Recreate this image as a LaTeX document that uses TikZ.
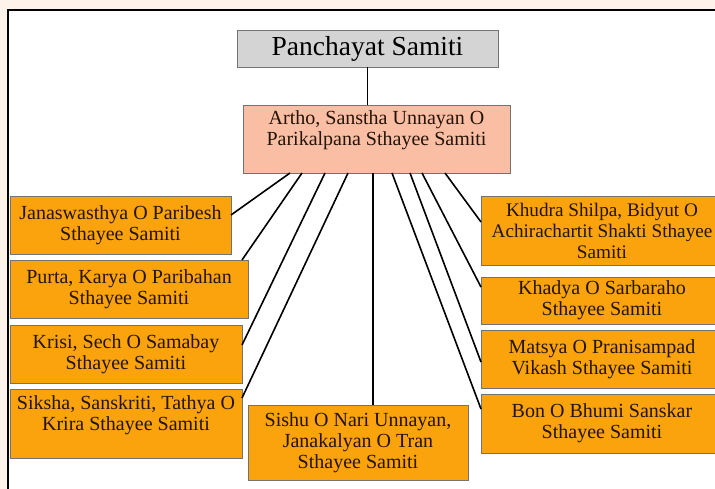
\documentclass[tikz,border=0pt]{standalone}
\usepackage{fontspec}
\usepackage{tikz}
\usepackage{xcolor}
\setmainfont{Liberation Serif}
\definecolor{samitigray}{RGB}{212,212,212}
\definecolor{samitisalmon}{RGB}{250,190,165}
\definecolor{samitiorange}{RGB}{250,163,12}
\definecolor{samititext}{RGB}{36,20,6}
\definecolor{pagecream}{RGB}{253,243,234}

\begin{document}
\begin{tikzpicture}[x=1pt,y=-1pt,
  box/.style={shape=rectangle,anchor=north west,draw=black!55,line width=0.8pt,
    inner sep=0pt,outer sep=0pt,align=center,text=samititext,
    font=\fontsize{20}{21}\selectfont},
  top box/.style={box,fill=samitigray,text=black,font=\fontsize{27.5}{30}\selectfont},
  mid box/.style={box,fill=samitisalmon},
  sub box/.style={box,fill=samitiorange},
  link/.style={line width=1.6pt,black}]
\clip (0,0) rectangle (715,489);
\fill[pagecream] (0,0) rectangle (715,489);
\fill[white] (8,10) rectangle (715,489);
\draw[line width=1.5pt] (8,489) -- (8,10) -- (715,10);
\node[top box,minimum width=261,minimum height=37] (P) at (237,30) {Panchayat Samiti};
\node[mid box,minimum width=267,minimum height=68] (A) at (243,105) {Artho, Sanstha Unnayan O\\Parikalpana Sthayee Samiti\\ \mbox{}};
\node[sub box,minimum width=221,minimum height=58] (J) at (10,196) {Janaswasthya O Paribesh\\Sthayee Samiti};
\node[sub box,minimum width=238,minimum height=58] (PK) at (10,260) {Purta, Karya O Paribahan\\Sthayee Samiti};
\node[sub box,minimum width=232,minimum height=58] (KS) at (10,325) {Krisi, Sech O Samabay\\Sthayee Samiti};
\node[sub box,minimum width=232,minimum height=69] (S) at (10,389) {Siksha, Sanskriti, Tathya O\\Krira Sthayee Samiti\\ \mbox{}};
\node[sub box,minimum width=220,minimum height=75] (SN) at (248,405) {Sishu O Nari Unnayan,\\Janakalyan O Tran\\Sthayee Samiti};
\node[sub box,minimum width=242,minimum height=69,font=\fontsize{19.2}{21}\selectfont] (KB) at (481,196) {Khudra Shilpa, Bidyut O\\Achirachartit Shakti Sthayee\\Samiti};
\node[sub box,minimum width=242,minimum height=47] (KH) at (481,277) {Khadya O Sarbaraho\\Sthayee Samiti};
\node[sub box,minimum width=242,minimum height=58] (M) at (481,330) {Matsya O Pranisampad\\Vikash Sthayee Samiti};
\node[sub box,minimum width=242,minimum height=59] (B) at (481,394) {Bon O Bhumi Sanskar\\Sthayee Samiti};
\draw[link] (P.south) -- (P.south |- A.north);
\draw[link] ([xshift=-86.5pt]A.south) -- ([yshift=10pt]J.east);
\draw[link] ([xshift=-74.5pt]A.south) -- ([xshift=-6pt]PK.north east);
\draw[link] ([xshift=-51.5pt]A.south) -- ([yshift=9pt]KS.east);
\draw[link] ([xshift=-28.5pt]A.south) -- ([yshift=25.5pt]S.east);
\draw[link] ([xshift=-3.5pt]A.south) -- ([xshift=15pt]SN.north);
\draw[link] ([xshift=15.5pt]A.south) -- ([yshift=14.5pt]B.west);
\draw[link] ([xshift=33.5pt]A.south) -- ([yshift=-3pt]M.west);
\draw[link] ([xshift=45.5pt]A.south) -- ([yshift=13.5pt]KH.west);
\draw[link] ([xshift=68.5pt]A.south) -- ([yshift=8.5pt]KB.west);
\end{tikzpicture}
\end{document}
